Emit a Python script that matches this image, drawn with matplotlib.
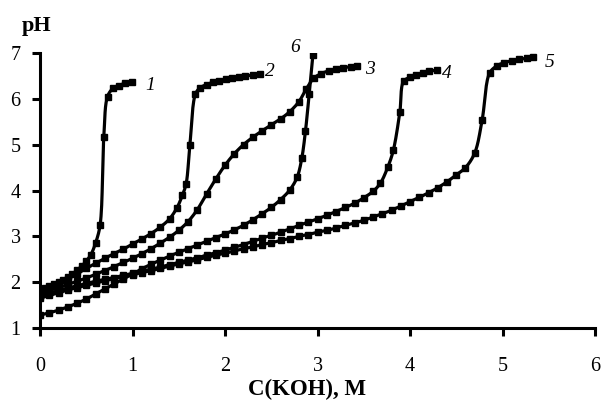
import numpy as np
import matplotlib
matplotlib.use("Agg")
import matplotlib.pyplot as plt

# Titration curves: pH versus KOH concentration (M)
x1 = [0.0, 0.05, 0.1, 0.15, 0.2, 0.25, 0.3, 0.35, 0.4, 0.45, 0.5, 0.55, 0.6, 0.65,
      0.69, 0.73, 0.79, 0.85, 0.92, 0.99]
y1 = [1.84, 1.87, 1.91, 1.95, 2.00, 2.05, 2.11, 2.18, 2.26, 2.35, 2.46, 2.60, 2.85, 3.25,
      5.17, 6.05, 6.23, 6.29, 6.34, 6.37]

x2 = [0.0, 0.1, 0.2, 0.3, 0.4, 0.5, 0.6, 0.7, 0.8, 0.9, 1.0, 1.1, 1.2, 1.3, 1.4, 1.48,
      1.54, 1.58, 1.62, 1.68, 1.73, 1.8, 1.87, 1.94, 2.01, 2.08, 2.15, 2.22, 2.30, 2.38]
y2 = [1.80, 1.88, 1.97, 2.07, 2.18, 2.30, 2.41, 2.52, 2.62, 2.72, 2.83, 2.94, 3.06, 3.20,
      3.38, 3.62, 3.90, 4.15, 4.99, 6.10, 6.24, 6.31, 6.36, 6.40, 6.43, 6.46, 6.48, 6.50,
      6.52, 6.54]

x3 = [0.0, 0.1, 0.2, 0.3, 0.4, 0.5, 0.6, 0.7, 0.8, 0.9, 1.0, 1.1, 1.2, 1.3, 1.4, 1.5,
      1.6, 1.7, 1.8, 1.9, 2.0, 2.1, 2.2, 2.3, 2.4, 2.5, 2.6, 2.7, 2.8, 2.88, 2.96, 3.04,
      3.12, 3.2, 3.28, 3.36, 3.43]
y3 = [1.76, 1.82, 1.88, 1.95, 2.02, 2.09, 2.17, 2.25, 2.34, 2.43, 2.52, 2.62, 2.73, 2.85,
      2.98, 3.13, 3.32, 3.58, 3.92, 4.25, 4.55, 4.80, 5.00, 5.16, 5.30, 5.43, 5.56, 5.72,
      5.94, 6.22, 6.45, 6.55, 6.61, 6.65, 6.68, 6.70, 6.71]

x4 = [0.0, 0.1, 0.2, 0.3, 0.4, 0.5, 0.6, 0.7, 0.8, 0.9, 1.0, 1.1, 1.2, 1.3, 1.4, 1.5,
      1.6, 1.7, 1.8, 1.9, 2.0, 2.1, 2.2, 2.3, 2.4, 2.5, 2.6, 2.7, 2.8, 2.9, 3.0, 3.1,
      3.2, 3.3, 3.4, 3.5, 3.6, 3.68, 3.76, 3.82, 3.89, 3.93, 4.0, 4.07, 4.14, 4.21, 4.29]
y4 = [1.70, 1.76, 1.82, 1.87, 1.92, 1.97, 2.02, 2.06, 2.10, 2.15, 2.19, 2.24, 2.28, 2.33,
      2.38, 2.43, 2.48, 2.53, 2.59, 2.64, 2.70, 2.76, 2.82, 2.89, 2.96, 3.02, 3.09, 3.16,
      3.24, 3.31, 3.38, 3.46, 3.54, 3.63, 3.72, 3.84, 3.98, 4.16, 4.51, 4.88, 5.71, 6.38,
      6.47, 6.53, 6.57, 6.60, 6.63]

x5 = [0.0, 0.1, 0.2, 0.3, 0.4, 0.5, 0.6, 0.7, 0.8, 0.9, 1.0, 1.1, 1.2, 1.3, 1.4, 1.5,
      1.6, 1.7, 1.8, 1.9, 2.0, 2.1, 2.2, 2.3, 2.4, 2.5, 2.6, 2.7, 2.8, 2.9, 3.0, 3.1,
      3.2, 3.3, 3.4, 3.5, 3.6, 3.7, 3.8, 3.9, 4.0, 4.1, 4.2, 4.3, 4.4, 4.5, 4.6, 4.7,
      4.78, 4.86, 4.94, 5.02, 5.1, 5.18, 5.26, 5.33]
y5 = [1.65, 1.71, 1.77, 1.83, 1.88, 1.93, 1.98, 2.03, 2.08, 2.12, 2.16, 2.21, 2.25, 2.30,
      2.35, 2.40, 2.44, 2.49, 2.54, 2.59, 2.63, 2.68, 2.73, 2.77, 2.82, 2.86, 2.91, 2.95,
      3.00, 3.04, 3.09, 3.13, 3.18, 3.24, 3.29, 3.35, 3.42, 3.49, 3.57, 3.66, 3.76, 3.85,
      3.95, 4.06, 4.19, 4.34, 4.50, 4.82, 5.54, 6.56, 6.72, 6.79, 6.83, 6.86, 6.89, 6.91]

x6 = [0.0, 0.1, 0.2, 0.3, 0.4, 0.5, 0.6, 0.7, 0.8, 0.9, 1.0, 1.1, 1.2, 1.3, 1.4, 1.5,
      1.6, 1.7, 1.8, 1.9, 2.0, 2.1, 2.2, 2.3, 2.4, 2.5, 2.6, 2.7, 2.78, 2.83, 2.87, 2.91,
      2.95]
y6 = [1.28, 1.33, 1.39, 1.46, 1.54, 1.63, 1.74, 1.85, 1.96, 2.07, 2.18, 2.29, 2.39, 2.48,
      2.57, 2.65, 2.73, 2.81, 2.89, 2.97, 3.05, 3.14, 3.24, 3.36, 3.49, 3.63, 3.80, 4.01,
      4.29, 4.70, 5.30, 6.10, 6.95]

series = [(x1, y1), (x2, y2), (x3, y3), (x4, y4), (x5, y5), (x6, y6)]
curve_labels = ["1", "2", "3", "4", "5", "6"]
label_pos = [(1.19, 6.30), (2.49, 6.59), (3.57, 6.63), (4.40, 6.56), (5.51, 6.80), (2.76, 7.13)]

x_ticks = [0, 1, 2, 3, 4, 5, 6]
y_ticks = [1, 2, 3, 4, 5, 6, 7]


def smooth_path(xs, ys, n=16):
    """Centripetal Catmull-Rom path through the points (a smoothed line)."""
    p = np.column_stack([xs, ys]).astype(float)
    scale = np.array([1.0, 0.5])
    ext = np.vstack([2 * p[0] - p[1], p, 2 * p[-1] - p[-2]])
    out = [p[0]]
    for i in range(1, len(ext) - 2):
        P0, P1, P2, P3 = ext[i - 1], ext[i], ext[i + 1], ext[i + 2]
        def tj(ti, a, b):
            return ti + max(np.linalg.norm((b - a) * scale), 1e-9) ** 0.5
        t0 = 0.0
        t1 = tj(t0, P0, P1)
        t2 = tj(t1, P1, P2)
        t3 = tj(t2, P2, P3)
        for t in np.linspace(t1, t2, n)[1:]:
            A1 = (t1 - t) / (t1 - t0) * P0 + (t - t0) / (t1 - t0) * P1
            A2 = (t2 - t) / (t2 - t1) * P1 + (t - t1) / (t2 - t1) * P2
            A3 = (t3 - t) / (t3 - t2) * P2 + (t - t2) / (t3 - t2) * P3
            B1 = (t2 - t) / (t2 - t0) * A1 + (t - t0) / (t2 - t0) * A2
            B2 = (t3 - t) / (t3 - t1) * A2 + (t - t1) / (t3 - t1) * A3
            C = (t2 - t) / (t2 - t1) * B1 + (t - t1) / (t2 - t1) * B2
            out.append(C)
    out = np.array(out)
    return out[:, 0], out[:, 1]


plt.rcParams["font.family"] = ["Liberation Serif", "DejaVu Serif"]

fig = plt.figure(figsize=(6.02, 4.01), dpi=100)
ax = fig.add_axes([40 / 602, 73 / 401, 555 / 602, 275 / 401])

for xs, ys in series:
    sx, sy = smooth_path(xs, ys)
    ax.plot(sx, sy, color="black", lw=2.3, solid_capstyle="round", zorder=2)
    ax.plot(xs, ys, linestyle="none", marker="s", ms=5.0, color="black", zorder=3)

for txt, (lx, ly) in zip(curve_labels, label_pos):
    ax.text(lx, ly, txt, fontsize=14, style="italic", ha="center", va="center",
            clip_on=False)

ax.set_xlim(0, 6)
ax.set_ylim(1, 7)
ax.set_xticks(x_ticks)
ax.set_yticks(y_ticks)
ax.set_xticklabels([str(v) for v in x_ticks])
ax.set_yticklabels([str(v) for v in y_ticks])

for side in ("top", "right"):
    ax.spines[side].set_visible(False)
for side in ("left", "bottom"):
    ax.spines[side].set_linewidth(2.2)
    ax.spines[side].set_color("black")

ax.tick_params(axis="x", direction="out", length=6, width=2.2, pad=15, labelsize=14.5)
ax.tick_params(axis="y", direction="out", length=6, width=2.2, pad=8, labelsize=14.5)

fig.text(37 / 602, 1 - 26 / 401, "pH", fontsize=16, fontweight="bold",
         ha="center", va="center")
fig.text(307 / 602, 12 / 401, "C(KOH), M", fontsize=16.5, fontweight="bold",
         ha="center", va="center")

fig.savefig("out.png", dpi=100)
